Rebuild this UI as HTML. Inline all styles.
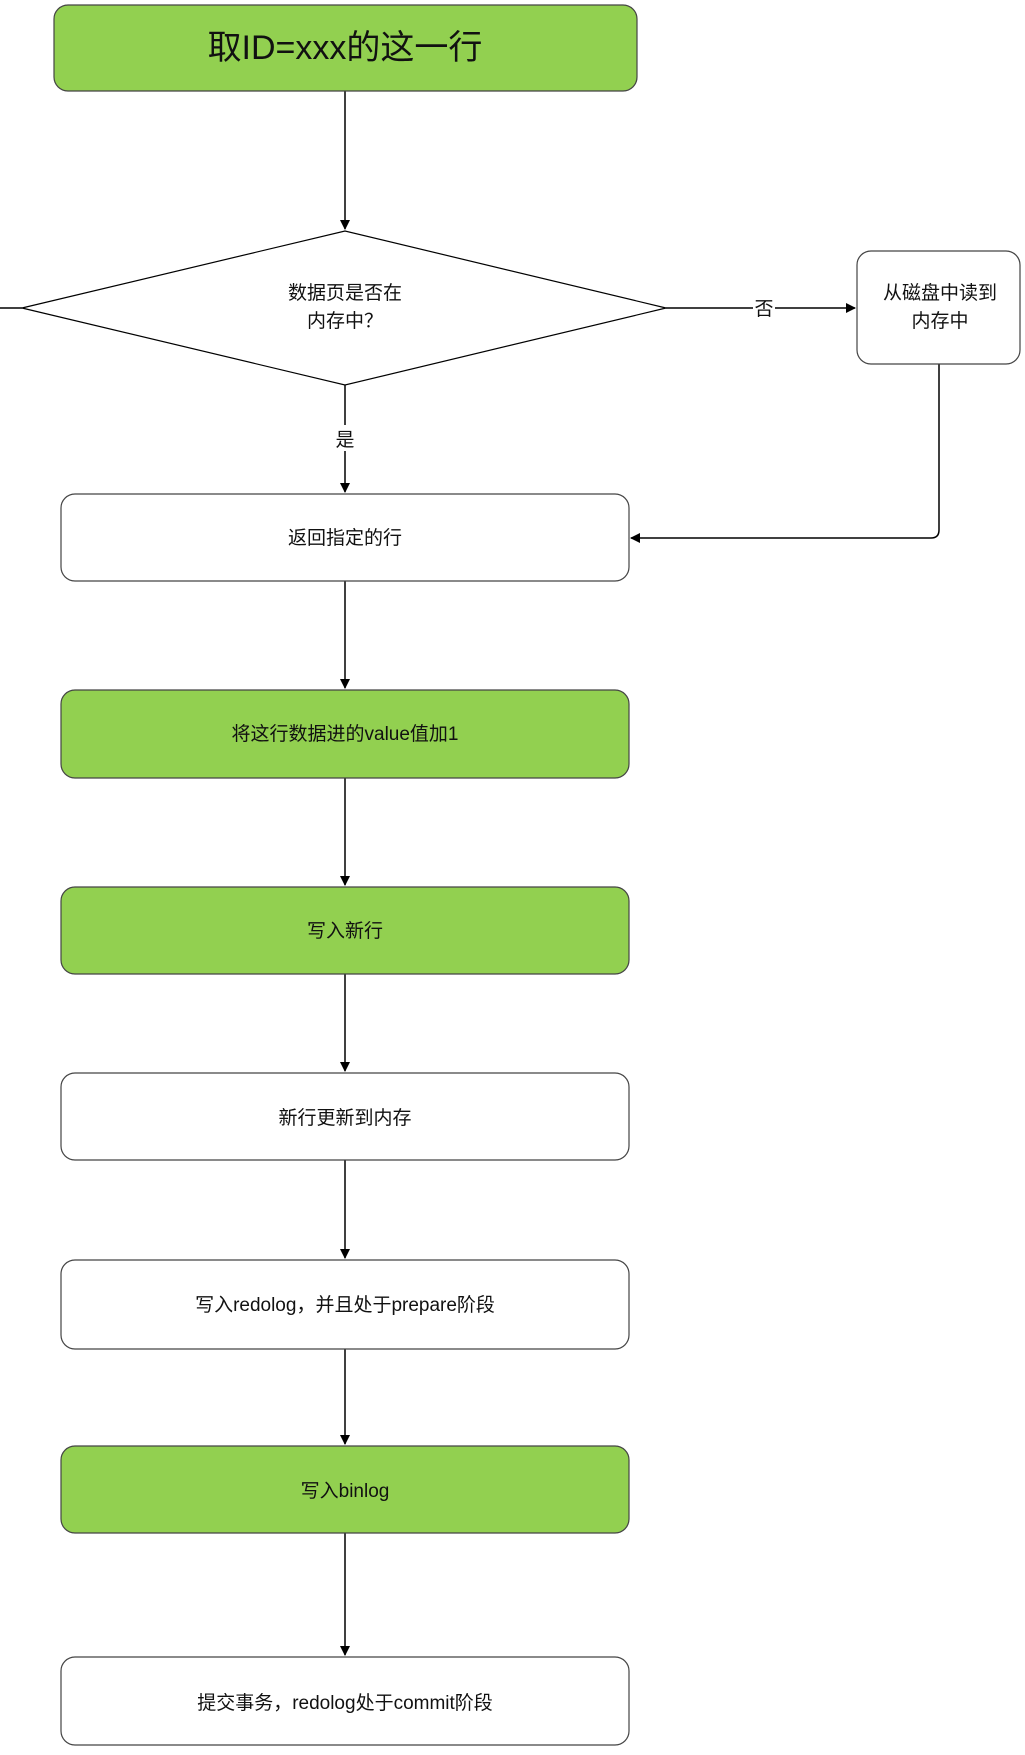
<!DOCTYPE html>
<html><head><meta charset="utf-8"><style>
html,body{margin:0;padding:0;background:#fff;}
svg text{font-family:"Liberation Sans","Noto Sans CJK SC",sans-serif;fill:#111;}
</style></head><body>
<svg width="1025" height="1750" viewBox="0 0 1025 1750" xmlns="http://www.w3.org/2000/svg">
<defs><marker id="a" markerWidth="10" markerHeight="10" refX="9" refY="5" orient="auto" markerUnits="userSpaceOnUse"><path d="M0,0 L10,5 L0,10 z" fill="#000"/></marker></defs>
<g stroke="#000" stroke-width="1.5" fill="none">
<line x1="345" y1="91" x2="345" y2="229" marker-end="url(#a)"/>
<line x1="0" y1="308" x2="22" y2="308"/>
<line x1="666" y1="308" x2="855" y2="308" marker-end="url(#a)"/>
<line x1="345" y1="385" x2="345" y2="492" marker-end="url(#a)"/>
<path d="M939,364 L939,530 Q939,538 931,538 L631,538" marker-end="url(#a)"/>
<line x1="345" y1="581" x2="345" y2="688" marker-end="url(#a)"/>
<line x1="345" y1="778" x2="345" y2="885" marker-end="url(#a)"/>
<line x1="345" y1="974" x2="345" y2="1071" marker-end="url(#a)"/>
<line x1="345" y1="1160" x2="345" y2="1258" marker-end="url(#a)"/>
<line x1="345" y1="1349" x2="345" y2="1444" marker-end="url(#a)"/>
<line x1="345" y1="1533" x2="345" y2="1655" marker-end="url(#a)"/>
</g>
<rect x="753" y="296" width="22" height="24" fill="#fff"/>
<rect x="333" y="425" width="24" height="26" fill="#fff"/>
<g stroke="#444" stroke-width="1.2">
<rect x="54" y="5" width="583" height="86" rx="14" fill="#92d050"/>
<polygon points="22,308 345,231 666,308 345,385" fill="#fff" stroke="#000"/>
<rect x="857" y="251" width="163" height="113" rx="14" fill="#fff"/>
<rect x="61" y="494" width="568" height="87" rx="14" fill="#fff"/>
<rect x="61" y="690" width="568" height="88" rx="14" fill="#92d050"/>
<rect x="61" y="887" width="568" height="87" rx="14" fill="#92d050"/>
<rect x="61" y="1073" width="568" height="87" rx="14" fill="#fff"/>
<rect x="61" y="1260" width="568" height="89" rx="14" fill="#fff"/>
<rect x="61" y="1446" width="568" height="87" rx="14" fill="#92d050"/>
<rect x="61" y="1657" width="568" height="88" rx="14" fill="#fff"/>
</g>
<g text-anchor="middle" font-size="19">
<text x="345" y="59" font-size="34">取ID=xxx的这一行</text>
<text x="345" y="299">数据页是否在</text>
<text x="345" y="327">内存中？</text>
<text x="764" y="315">否</text>
<text x="345" y="446">是</text>
<text x="940" y="299">从磁盘中读到</text>
<text x="940" y="327">内存中</text>
<text x="345" y="544">返回指定的行</text>
<text x="345" y="740">将这行数据进的value值加1</text>
<text x="345" y="937">写入新行</text>
<text x="345" y="1124">新行更新到内存</text>
<text x="345" y="1311">写入redolog，并且处于prepare阶段</text>
<text x="345" y="1497">写入binlog</text>
<text x="345" y="1709">提交事务，redolog处于commit阶段</text>
</g>
</svg>
</body></html>
